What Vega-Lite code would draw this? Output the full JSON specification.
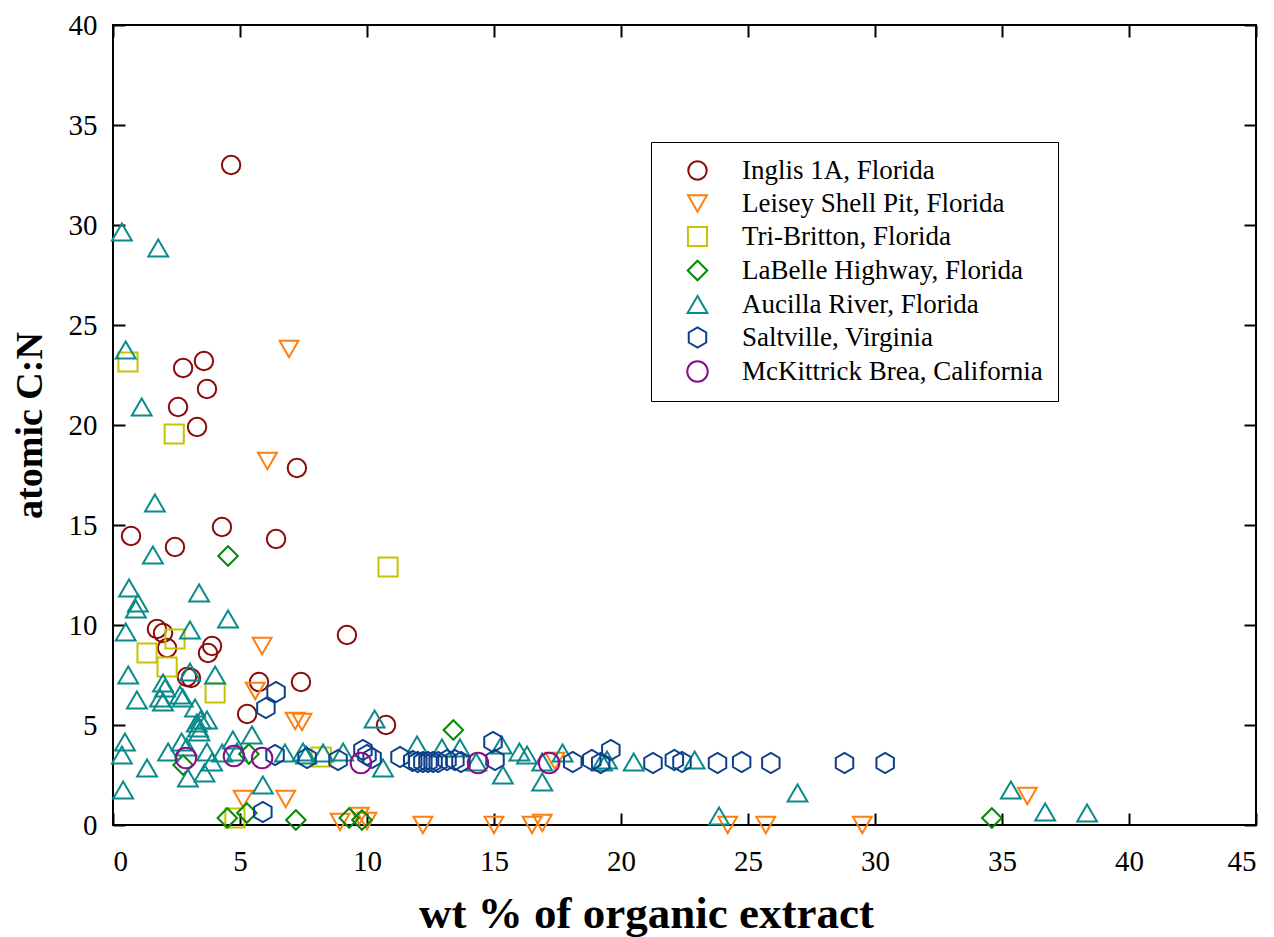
{
  "$schema": "https://vega.github.io/schema/vega-lite/v6.json",
  "width": 1143,
  "height": 800,
  "autosize": "none",
  "padding": {"left": 113, "top": 25, "right": 18, "bottom": 112},
  "background": "white",
  "config": {
    "view": {"stroke": "black", "strokeWidth": 2},
    "axis": {
      "domain": false, "grid": false, "ticks": true, "tickColor": "black", "tickWidth": 2, "tickSize": -12,
      "labelFont": "Liberation Serif", "labelFontSize": 29, "labelColor": "black",
      "titleFont": "Liberation Serif", "titleFontWeight": "bold", "titleColor": "black"
    },
    "legend": {
      "orient": "none", "legendX": 538, "legendY": 117, "strokeColor": "black", "padding": 15,
      "symbolOffset": 18, "labelOffset": 31, "labelFont": "Liberation Serif", "labelFontSize": 27,
      "labelColor": "black", "symbolSize": 360, "symbolStrokeWidth": 2, "rowPadding": 5, "labelLimit": 0
    }
  },
  "data": {"values": [
    {"site": "Inglis 1A, Florida", "x": 4.65, "y": 33.0},
    {"site": "Inglis 1A, Florida", "x": 2.76, "y": 22.85},
    {"site": "Inglis 1A, Florida", "x": 3.58, "y": 23.2},
    {"site": "Inglis 1A, Florida", "x": 3.70, "y": 21.8},
    {"site": "Inglis 1A, Florida", "x": 2.56, "y": 20.9},
    {"site": "Inglis 1A, Florida", "x": 3.31, "y": 19.9},
    {"site": "Inglis 1A, Florida", "x": 7.24, "y": 17.85},
    {"site": "Inglis 1A, Florida", "x": 4.29, "y": 14.9},
    {"site": "Inglis 1A, Florida", "x": 0.71, "y": 14.45},
    {"site": "Inglis 1A, Florida", "x": 2.44, "y": 13.9},
    {"site": "Inglis 1A, Florida", "x": 6.42, "y": 14.3},
    {"site": "Inglis 1A, Florida", "x": 9.21, "y": 9.5},
    {"site": "Inglis 1A, Florida", "x": 1.73, "y": 9.8},
    {"site": "Inglis 1A, Florida", "x": 1.97, "y": 9.6},
    {"site": "Inglis 1A, Florida", "x": 2.13, "y": 8.85},
    {"site": "Inglis 1A, Florida", "x": 3.90, "y": 8.95},
    {"site": "Inglis 1A, Florida", "x": 3.74, "y": 8.6},
    {"site": "Inglis 1A, Florida", "x": 2.91, "y": 7.4},
    {"site": "Inglis 1A, Florida", "x": 3.07, "y": 7.35},
    {"site": "Inglis 1A, Florida", "x": 5.75, "y": 7.15},
    {"site": "Inglis 1A, Florida", "x": 7.40, "y": 7.15},
    {"site": "Inglis 1A, Florida", "x": 5.28, "y": 5.55},
    {"site": "Inglis 1A, Florida", "x": 10.75, "y": 5.0},
    {"site": "Leisey Shell Pit, Florida", "x": 6.93, "y": 23.8},
    {"site": "Leisey Shell Pit, Florida", "x": 6.08, "y": 18.2},
    {"site": "Leisey Shell Pit, Florida", "x": 5.87, "y": 8.95},
    {"site": "Leisey Shell Pit, Florida", "x": 5.6, "y": 6.7},
    {"site": "Leisey Shell Pit, Florida", "x": 7.17, "y": 5.2},
    {"site": "Leisey Shell Pit, Florida", "x": 7.44, "y": 5.15},
    {"site": "Leisey Shell Pit, Florida", "x": 5.12, "y": 1.3},
    {"site": "Leisey Shell Pit, Florida", "x": 6.8, "y": 1.3},
    {"site": "Leisey Shell Pit, Florida", "x": 8.94, "y": 0.15},
    {"site": "Leisey Shell Pit, Florida", "x": 9.7, "y": 0.45},
    {"site": "Leisey Shell Pit, Florida", "x": 10.0, "y": 0.2},
    {"site": "Leisey Shell Pit, Florida", "x": 12.2, "y": 0.0},
    {"site": "Leisey Shell Pit, Florida", "x": 15.0, "y": 0.0},
    {"site": "Leisey Shell Pit, Florida", "x": 16.5, "y": 0.0},
    {"site": "Leisey Shell Pit, Florida", "x": 16.9, "y": 0.1},
    {"site": "Leisey Shell Pit, Florida", "x": 17.4, "y": 3.2},
    {"site": "Leisey Shell Pit, Florida", "x": 24.2, "y": 0.0},
    {"site": "Leisey Shell Pit, Florida", "x": 25.7, "y": 0.0},
    {"site": "Leisey Shell Pit, Florida", "x": 29.5, "y": 0.0},
    {"site": "Leisey Shell Pit, Florida", "x": 36.0, "y": 1.45},
    {"site": "Tri-Britton, Florida", "x": 0.59, "y": 23.15},
    {"site": "Tri-Britton, Florida", "x": 2.41, "y": 19.55},
    {"site": "Tri-Britton, Florida", "x": 10.83, "y": 12.9},
    {"site": "Tri-Britton, Florida", "x": 2.44, "y": 9.3},
    {"site": "Tri-Britton, Florida", "x": 1.34, "y": 8.6},
    {"site": "Tri-Britton, Florida", "x": 2.13, "y": 7.9},
    {"site": "Tri-Britton, Florida", "x": 4.02, "y": 6.6},
    {"site": "Tri-Britton, Florida", "x": 4.8, "y": 0.35},
    {"site": "Tri-Britton, Florida", "x": 8.2, "y": 3.4},
    {"site": "LaBelle Highway, Florida", "x": 4.53, "y": 13.45},
    {"site": "LaBelle Highway, Florida", "x": 13.4, "y": 4.75},
    {"site": "LaBelle Highway, Florida", "x": 2.76, "y": 3.0},
    {"site": "LaBelle Highway, Florida", "x": 5.35, "y": 3.55},
    {"site": "LaBelle Highway, Florida", "x": 4.5, "y": 0.35},
    {"site": "LaBelle Highway, Florida", "x": 5.27, "y": 0.6},
    {"site": "LaBelle Highway, Florida", "x": 7.2, "y": 0.25},
    {"site": "LaBelle Highway, Florida", "x": 9.3, "y": 0.35},
    {"site": "LaBelle Highway, Florida", "x": 9.8, "y": 0.25},
    {"site": "LaBelle Highway, Florida", "x": 34.6, "y": 0.35},
    {"site": "Aucilla River, Florida", "x": 0.35, "y": 29.65},
    {"site": "Aucilla River, Florida", "x": 1.78, "y": 28.85},
    {"site": "Aucilla River, Florida", "x": 0.5, "y": 23.75},
    {"site": "Aucilla River, Florida", "x": 1.13, "y": 20.9},
    {"site": "Aucilla River, Florida", "x": 1.65, "y": 16.1},
    {"site": "Aucilla River, Florida", "x": 1.57, "y": 13.5},
    {"site": "Aucilla River, Florida", "x": 0.63, "y": 11.85},
    {"site": "Aucilla River, Florida", "x": 0.98, "y": 11.1},
    {"site": "Aucilla River, Florida", "x": 0.9, "y": 10.8},
    {"site": "Aucilla River, Florida", "x": 3.39, "y": 11.6},
    {"site": "Aucilla River, Florida", "x": 4.53, "y": 10.3},
    {"site": "Aucilla River, Florida", "x": 0.5, "y": 9.65},
    {"site": "Aucilla River, Florida", "x": 3.03, "y": 9.75},
    {"site": "Aucilla River, Florida", "x": 0.6, "y": 7.5},
    {"site": "Aucilla River, Florida", "x": 3.03, "y": 7.65},
    {"site": "Aucilla River, Florida", "x": 4.02, "y": 7.5},
    {"site": "Aucilla River, Florida", "x": 1.97, "y": 7.1},
    {"site": "Aucilla River, Florida", "x": 2.05, "y": 6.85},
    {"site": "Aucilla River, Florida", "x": 0.94, "y": 6.25},
    {"site": "Aucilla River, Florida", "x": 1.85, "y": 6.35},
    {"site": "Aucilla River, Florida", "x": 1.97, "y": 6.15},
    {"site": "Aucilla River, Florida", "x": 2.64, "y": 6.5},
    {"site": "Aucilla River, Florida", "x": 2.75, "y": 6.35},
    {"site": "Aucilla River, Florida", "x": 3.23, "y": 5.85},
    {"site": "Aucilla River, Florida", "x": 3.3, "y": 5.1},
    {"site": "Aucilla River, Florida", "x": 3.45, "y": 5.25},
    {"site": "Aucilla River, Florida", "x": 3.7, "y": 5.25},
    {"site": "Aucilla River, Florida", "x": 3.35, "y": 4.85},
    {"site": "Aucilla River, Florida", "x": 3.4, "y": 4.65},
    {"site": "Aucilla River, Florida", "x": 10.3, "y": 5.3},
    {"site": "Aucilla River, Florida", "x": 0.47, "y": 4.15},
    {"site": "Aucilla River, Florida", "x": 0.35, "y": 3.5},
    {"site": "Aucilla River, Florida", "x": 1.34, "y": 2.85},
    {"site": "Aucilla River, Florida", "x": 0.4, "y": 1.75},
    {"site": "Aucilla River, Florida", "x": 2.17, "y": 3.65},
    {"site": "Aucilla River, Florida", "x": 2.7, "y": 4.15},
    {"site": "Aucilla River, Florida", "x": 2.9, "y": 3.9},
    {"site": "Aucilla River, Florida", "x": 2.95, "y": 2.35},
    {"site": "Aucilla River, Florida", "x": 3.7, "y": 3.65},
    {"site": "Aucilla River, Florida", "x": 3.6, "y": 2.6},
    {"site": "Aucilla River, Florida", "x": 3.9, "y": 3.15},
    {"site": "Aucilla River, Florida", "x": 4.72, "y": 4.25},
    {"site": "Aucilla River, Florida", "x": 5.47, "y": 4.5},
    {"site": "Aucilla River, Florida", "x": 4.3, "y": 3.6},
    {"site": "Aucilla River, Florida", "x": 5.9, "y": 2.0},
    {"site": "Aucilla River, Florida", "x": 4.88, "y": 3.65},
    {"site": "Aucilla River, Florida", "x": 6.77, "y": 3.6},
    {"site": "Aucilla River, Florida", "x": 7.48, "y": 3.65},
    {"site": "Aucilla River, Florida", "x": 7.6, "y": 3.5},
    {"site": "Aucilla River, Florida", "x": 8.27, "y": 3.6},
    {"site": "Aucilla River, Florida", "x": 9.06, "y": 3.65},
    {"site": "Aucilla River, Florida", "x": 10.63, "y": 2.85},
    {"site": "Aucilla River, Florida", "x": 11.97, "y": 4.0},
    {"site": "Aucilla River, Florida", "x": 12.95, "y": 3.85},
    {"site": "Aucilla River, Florida", "x": 13.66, "y": 3.85},
    {"site": "Aucilla River, Florida", "x": 14.3, "y": 3.15},
    {"site": "Aucilla River, Florida", "x": 15.3, "y": 4.0},
    {"site": "Aucilla River, Florida", "x": 15.35, "y": 2.5},
    {"site": "Aucilla River, Florida", "x": 16.0, "y": 3.65},
    {"site": "Aucilla River, Florida", "x": 16.3, "y": 3.5},
    {"site": "Aucilla River, Florida", "x": 16.9, "y": 3.15},
    {"site": "Aucilla River, Florida", "x": 16.9, "y": 2.15},
    {"site": "Aucilla River, Florida", "x": 17.7, "y": 3.6},
    {"site": "Aucilla River, Florida", "x": 19.25, "y": 3.15},
    {"site": "Aucilla River, Florida", "x": 19.45, "y": 3.25},
    {"site": "Aucilla River, Florida", "x": 20.5, "y": 3.15},
    {"site": "Aucilla River, Florida", "x": 22.9, "y": 3.25},
    {"site": "Aucilla River, Florida", "x": 23.86, "y": 0.45},
    {"site": "Aucilla River, Florida", "x": 26.95, "y": 1.6},
    {"site": "Aucilla River, Florida", "x": 35.35, "y": 1.75},
    {"site": "Aucilla River, Florida", "x": 36.7, "y": 0.65},
    {"site": "Aucilla River, Florida", "x": 38.35, "y": 0.6},
    {"site": "Saltville, Virginia", "x": 6.42, "y": 6.65},
    {"site": "Saltville, Virginia", "x": 6.02, "y": 5.85},
    {"site": "Saltville, Virginia", "x": 6.38, "y": 3.5},
    {"site": "Saltville, Virginia", "x": 7.64, "y": 3.35},
    {"site": "Saltville, Virginia", "x": 8.86, "y": 3.25},
    {"site": "Saltville, Virginia", "x": 9.84, "y": 3.75},
    {"site": "Saltville, Virginia", "x": 10.0, "y": 3.5},
    {"site": "Saltville, Virginia", "x": 10.2, "y": 3.35},
    {"site": "Saltville, Virginia", "x": 11.3, "y": 3.4},
    {"site": "Saltville, Virginia", "x": 11.8, "y": 3.2},
    {"site": "Saltville, Virginia", "x": 12.0, "y": 3.15},
    {"site": "Saltville, Virginia", "x": 12.2, "y": 3.15},
    {"site": "Saltville, Virginia", "x": 12.4, "y": 3.15},
    {"site": "Saltville, Virginia", "x": 12.6, "y": 3.15},
    {"site": "Saltville, Virginia", "x": 12.8, "y": 3.15},
    {"site": "Saltville, Virginia", "x": 13.15, "y": 3.25},
    {"site": "Saltville, Virginia", "x": 13.46, "y": 3.25},
    {"site": "Saltville, Virginia", "x": 13.7, "y": 3.15},
    {"site": "Saltville, Virginia", "x": 14.96, "y": 4.15},
    {"site": "Saltville, Virginia", "x": 15.04, "y": 3.25},
    {"site": "Saltville, Virginia", "x": 18.1, "y": 3.15},
    {"site": "Saltville, Virginia", "x": 18.85, "y": 3.25},
    {"site": "Saltville, Virginia", "x": 19.2, "y": 3.1},
    {"site": "Saltville, Virginia", "x": 19.6, "y": 3.75},
    {"site": "Saltville, Virginia", "x": 21.26, "y": 3.1},
    {"site": "Saltville, Virginia", "x": 22.1, "y": 3.25},
    {"site": "Saltville, Virginia", "x": 22.4, "y": 3.15},
    {"site": "Saltville, Virginia", "x": 23.8, "y": 3.1},
    {"site": "Saltville, Virginia", "x": 24.75, "y": 3.15},
    {"site": "Saltville, Virginia", "x": 25.9, "y": 3.1},
    {"site": "Saltville, Virginia", "x": 28.8, "y": 3.1},
    {"site": "Saltville, Virginia", "x": 30.4, "y": 3.1},
    {"site": "Saltville, Virginia", "x": 5.9, "y": 0.65},
    {"site": "McKittrick Brea, California", "x": 2.87, "y": 3.35},
    {"site": "McKittrick Brea, California", "x": 4.76, "y": 3.45},
    {"site": "McKittrick Brea, California", "x": 5.87, "y": 3.35},
    {"site": "McKittrick Brea, California", "x": 9.76, "y": 3.1},
    {"site": "McKittrick Brea, California", "x": 14.37, "y": 3.1},
    {"site": "McKittrick Brea, California", "x": 17.17, "y": 3.1}
  ]},
  "layer": [
    {
      "mark": {"type": "point", "filled": false, "strokeWidth": 2, "opacity": 1},
      "encoding": {
        "x": {"field": "x", "type": "quantitative",
          "scale": {"domain": [0, 45], "nice": false, "zero": false},
          "axis": {"orient": "bottom", "values": [0, 5, 10, 15, 20, 25, 30, 35, 40, 45], "labelPadding": 34,
            "title": "wt % of organic extract", "titleFontSize": 45, "titleX": 533, "titleY": 102,
            "titleAlign": "center", "titleBaseline": "alphabetic"}},
        "y": {"field": "y", "type": "quantitative",
          "scale": {"domain": [0, 40], "nice": false, "zero": false},
          "axis": {"orient": "left", "values": [0, 5, 10, 15, 20, 25, 30, 35, 40], "labelPadding": 28,
            "title": "atomic C:N", "titleFontSize": 38, "titlePadding": 19}},
        "color": {"field": "site", "type": "nominal",
          "scale": {"domain": ["Inglis 1A, Florida", "Leisey Shell Pit, Florida", "Tri-Britton, Florida", "LaBelle Highway, Florida", "Aucilla River, Florida", "Saltville, Virginia", "McKittrick Brea, California"],
            "range": ["#8b0a0a", "#ff7f0e", "#c4c400", "#058a05", "#0a8a8a", "#0e3f8c", "#8a0e8a"]},
          "legend": {"title": null}},
        "shape": {"field": "site", "type": "nominal",
          "scale": {"domain": ["Inglis 1A, Florida", "Leisey Shell Pit, Florida", "Tri-Britton, Florida", "LaBelle Highway, Florida", "Aucilla River, Florida", "Saltville, Virginia", "McKittrick Brea, California"],
            "range": ["circle", "triangle-down", "square", "diamond", "triangle-up", "M0,-1L0.866,-0.5L0.866,0.5L0,1L-0.866,0.5L-0.866,-0.5Z", "circle"]},
          "legend": {"title": null}},
        "size": {"field": "site", "type": "nominal",
          "scale": {"domain": ["Inglis 1A, Florida", "Leisey Shell Pit, Florida", "Tri-Britton, Florida", "LaBelle Highway, Florida", "Aucilla River, Florida", "Saltville, Virginia", "McKittrick Brea, California"],
            "range": [340, 420, 280, 420, 380, 400, 340]},
          "legend": null}
      }
    },
    {
      "mark": {"type": "point", "opacity": 0},
      "encoding": {
        "x": {"field": "x", "type": "quantitative",
          "axis": {"orient": "top", "values": [0, 5, 10, 15, 20, 25, 30, 35, 40, 45], "labels": false, "title": null}},
        "y": {"field": "y", "type": "quantitative",
          "axis": {"orient": "right", "values": [0, 5, 10, 15, 20, 25, 30, 35, 40], "labels": false, "title": null}}
      }
    }
  ],
  "resolve": {"axis": {"x": "independent", "y": "independent"}}
}
